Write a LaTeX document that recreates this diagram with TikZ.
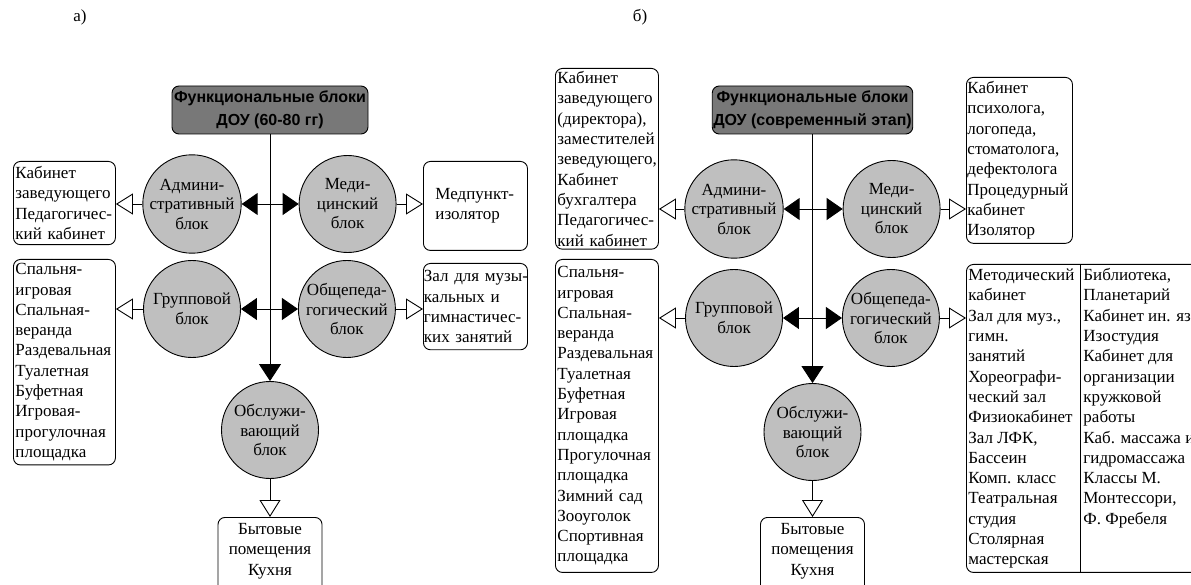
\documentclass[tikz,border=0pt]{standalone}
\usepackage{fontspec}
\setmainfont{Liberation Serif}
\newfontfamily\hdfont{Liberation Sans}
\usetikzlibrary{arrows.meta,positioning}

\newcommand{\txt}{\fontsize{17}{20.3}\selectfont}

\begin{document}
\begin{tikzpicture}[x=1pt,y=-1pt,line width=0.9pt,
	blk/.style={circle,draw,fill=black!25,minimum size=97pt,inner sep=0pt,
	            align=center,font=\fontsize{17}{19.5}\selectfont},
	ttl/.style={draw,rounded corners=7pt,fill=black!53,align=center,minimum height=48pt,
	            inner xsep=1pt,font=\hdfont\bfseries\fontsize{16}{23}\selectfont},
	lst/.style={draw,rounded corners=7pt,align=left,anchor=north west,
	            inner xsep=2pt,inner ysep=5pt,font=\txt},
	dbl/.style={{Triangle[length=16pt,width=22pt]}-{Triangle[length=16pt,width=22pt]}},
	fa/.style={-{Triangle[length=17pt,width=22pt]}},
	ha/.style={-{Triangle[open,length=17pt,width=21pt]}}]
	\clip (0,0) rectangle (1191,585);
	% a) 60-80
	\node[font=\txt]				(aL)	at (80,17)		{а)};
	\node[ttl,minimum width=196pt]		(a0)	at (270,110)	{Функциональные блоки\\ДОУ (60-80 гг)};
	\node[blk]					(a1)	at (192,204)	{Админи-\\стративный\\блок};
	\node[blk]					(a2)	[right=57pt of a1]	{Меди-\\цинский\\блок};
	\node[blk]					(a3)	at (192,309)	{Групповой\\блок};
	\node[blk]					(a4)	[right=57pt of a3]	{Общепеда-\\гогический\\блок};
	\node[blk]					(a5)	at (270,430)	{Обслужи-\\вающий\\блок};
	\node[lst,text width=98pt]			(a1b)	at (13,161)		{Кабинет\\заведующего\\Педагогичес-\\кий кабинет};
	\node[lst,text width=80pt,inner xsep=12pt,minimum height=89pt]
							(a2b)	at (423,161)	{Медпункт-\\изолятор};
	\node[lst,text width=98pt,inner ysep=4pt]	(a3b)	at (13,259)		{Спальня-\\игровая\\Спальная-\\веранда\\Раздевальная\\Туалетная\\Буфетная\\Игровая-\\прогулочная\\площадка};
	\node[lst,text width=103pt,inner xsep=0.5pt,inner ysep=7pt]
							(a4b)	at (423,263)	{\mbox{Зал для музы-}\\кальных и\\гимнастичес-\\ких занятий};
	\node[lst,anchor=north,align=center,text width=100pt,inner ysep=6pt,text depth=70pt]
							(a5b)	at (270,517)	{Бытовые\\помещения\\Кухня};
	\path	(a0)	edge[fa]	(a5)
		(a1)	edge[dbl]	(a2)
		(a3)	edge[dbl]	(a4)
		(a1)	edge[ha]	(a1 -| a1b.east)
		(a2)	edge[ha]	(a2 -| a2b.west)
		(a3)	edge[ha]	(a3 -| a3b.east)
		(a4)	edge[ha]	(a4 -| a4b.west)
		(a5)	edge[ha]	(a5b);
	% b) modern
	\node[font=\txt]				(bL)	at (640,17)		{б)};
	\node[ttl,minimum width=199pt]		(b0)	at (812.5,110)	{Функциональные блоки\\ДОУ (современный этап)};
	\node[blk]					(b1)	at (734,209)	{Админи-\\стративный\\блок};
	\node[blk]					(b2)	[right=59pt of b1]	{Меди-\\цинский\\блок};
	\node[blk]					(b3)	at (734,318)	{Групповой\\блок};
	\node[blk]					(b4)	[right=59pt of b3]	{Общепеда-\\гогический\\блок};
	\node[blk]					(b5)	at (812.5,432)	{Обслужи-\\вающий\\блок};
	\node[lst,text width=99pt,inner ysep=3pt]	(b1b)	at (555,68)		{Кабинет\\заведующего\\(директора),\\заместителей\\зеведующего,\\Кабинет\\бухгалтера\\Педагогичес-\\кий кабинет};
	\node[lst,text width=104pt,inner xsep=1pt,inner ysep=4pt]
							(b2b)	at (966,77)		{Кабинет\\психолога,\\логопеда,\\стоматолога,\\дефектолога\\Процедурный\\кабинет\\Изолятор};
	\node[lst,text width=99pt,inner ysep=7pt]	(b3b)	at (555,259)	{Спальня-\\игровая\\Спальная-\\веранда\\Раздевальная\\Туалетная\\Буфетная\\Игровая\\площадка\\Прогулочная\\площадка\\Зимний сад\\Зооуголок\\Спортивная\\площадка};
	\node[lst,inner ysep=4pt]			(b4b)	at (966,264)
		{\parbox[t]{115pt}{Методический\\кабинет\\Зал для муз.,\\гимн.\\занятий\\Хореографи-\\ческий зал\\Физиокабинет\\Зал ЛФК,\\Бассеин\\Комп. класс\\Театральная\\студия\\Столярная\\мастерская}%
		 \parbox[t]{130pt}{Библиотека,\\Планетарий\\Кабинет ин. яз.\\Изостудия\\Кабинет для\\организации\\кружковой\\работы\\Каб. массажа и\\гидромассажа\\Классы М.\\Монтессори,\\Ф. Фребеля}};
	\coordinate					(b4d)	at (1080,264);
	\node[lst,anchor=north,align=center,text width=100pt,inner ysep=6pt,text depth=70pt]
							(b5b)	at (812.5,517)	{Бытовые\\помещения\\Кухня};
	\draw (b4d) -- (b4d |- b4b.south);
	\path	(b0)	edge[fa]	(b5)
		(b1)	edge[dbl]	(b2)
		(b3)	edge[dbl]	(b4)
		(b1)	edge[ha]	(b1 -| b1b.east)
		(b2)	edge[ha]	(b2 -| b2b.west)
		(b3)	edge[ha]	(b3 -| b3b.east)
		(b4)	edge[ha]	(b4 -| b4b.west)
		(b5)	edge[ha]	(b5b);
\end{tikzpicture}
\end{document}
